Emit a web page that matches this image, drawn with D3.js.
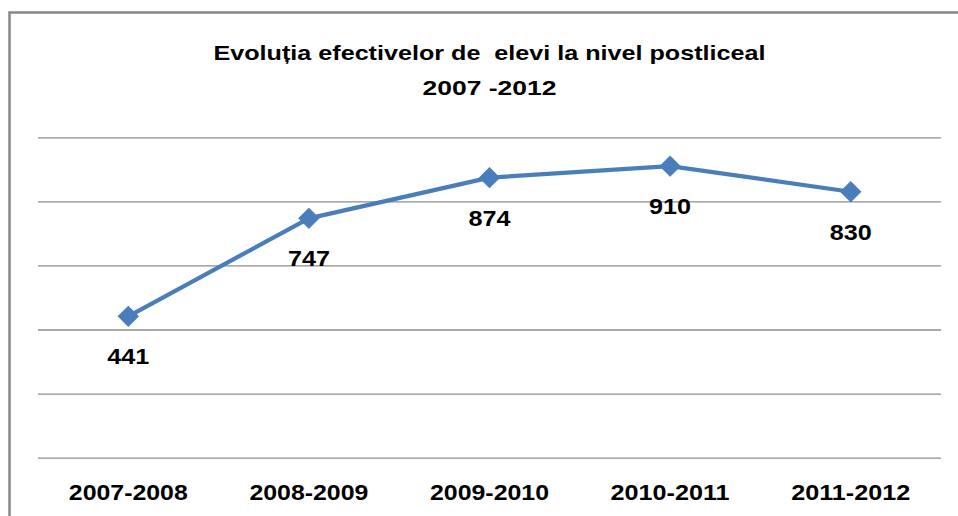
<!DOCTYPE html>
<html><head><meta charset="utf-8">
<script src="https://cdn.jsdelivr.net/npm/d3@7/dist/d3.min.js"></script>
<style>body{margin:0;background:#fff;}svg{display:block;}</style>
</head><body>
<script>
const categories = ["2007-2008","2008-2009","2009-2010","2010-2011","2011-2012"];
const values = [441, 747, 874, 910, 830];
const yTicks = [0, 200, 400, 600, 800, 1000];
const titleLines = ["Evoluția efectivelor de  elevi la nivel postliceal", "2007 -2012"];

(function(){
const W = 958, H = 516;
const svg = d3.select("body").append("svg").attr("width", W).attr("height", H);
svg.append("rect").attr("width", W).attr("height", H).attr("fill", "#fff");

// chart frame
svg.append("path").attr("d", `M9.5,${H+5} L9.5,12.5 L${W+5},12.5`)
  .attr("fill","none").attr("stroke","#878787").attr("stroke-width",2.5);

const pLeft = 38, pRight = 941, pTop = 137.3, pBottom = 457.6;
const x = d3.scaleBand().domain(categories).range([pLeft, pRight]);
const y = d3.scaleLinear().domain([0, 1000]).range([pBottom, pTop]);
const cx = c => x(c) + x.bandwidth()/2;

const font = "'Liberation Sans', Arial, sans-serif";

// gridlines
const gy = svg.append("g").attr("transform", `translate(${pLeft},0)`)
  .call(d3.axisLeft(y).tickValues(yTicks).tickSize(-(pRight-pLeft)).tickFormat(""));
gy.select(".domain").remove();
gy.selectAll(".tick line").attr("stroke","#8c8c8c").attr("stroke-width",1.3);

// x axis labels
const gx = svg.append("g").attr("transform", `translate(0,${pBottom})`)
  .call(d3.axisBottom(x).tickSize(0).tickPadding(0));
gx.select(".domain").remove();
gx.selectAll(".tick text")
  .attr("y", 42.5).attr("dy", null)
  .attr("font-family", font).attr("font-weight","bold").attr("font-size", 21.5)
  .attr("fill","#000")
  .attr("textLength", 119).attr("lengthAdjust","spacingAndGlyphs");

// line
const line = d3.line().x((d,i)=>cx(categories[i])).y(d=>y(d));
svg.append("path").datum(values).attr("d", line)
  .attr("fill","none").attr("stroke","#4A7EBB").attr("stroke-width",4.2)
  .attr("stroke-linejoin","round");

// markers
svg.selectAll(".mk").data(values).join("path")
  .attr("transform",(d,i)=>`translate(${cx(categories[i])},${y(d)}) rotate(45)`)
  .attr("d", d3.symbol().type(d3.symbolSquare).size(200))
  .attr("fill","#4A7EBB").attr("stroke","#4A7EBB").attr("stroke-width",1);

// data labels
svg.selectAll(".lbl").data(values).join("text")
  .attr("x",(d,i)=>cx(categories[i]))
  .attr("y",d=>y(d) + 48)
  .attr("text-anchor","middle")
  .attr("font-family", font).attr("font-weight","bold").attr("font-size", 21.5)
  .attr("fill","#000")
  .attr("textLength", 42).attr("lengthAdjust","spacingAndGlyphs")
  .text(d=>d);

// title
const titleY = [60, 95];
const titleW = [552, 134];
svg.selectAll(".ttl").data(titleLines).join("text")
  .attr("x", (pLeft+pRight)/2)
  .attr("y",(d,i)=>titleY[i])
  .attr("text-anchor","middle")
  .attr("font-family", font).attr("font-weight","bold").attr("font-size", 21)
  .attr("fill","#000")
  .attr("textLength",(d,i)=>titleW[i]).attr("lengthAdjust","spacingAndGlyphs")
  .style("white-space","pre")
  .text(d=>d);
})();
</script>
</body></html>
